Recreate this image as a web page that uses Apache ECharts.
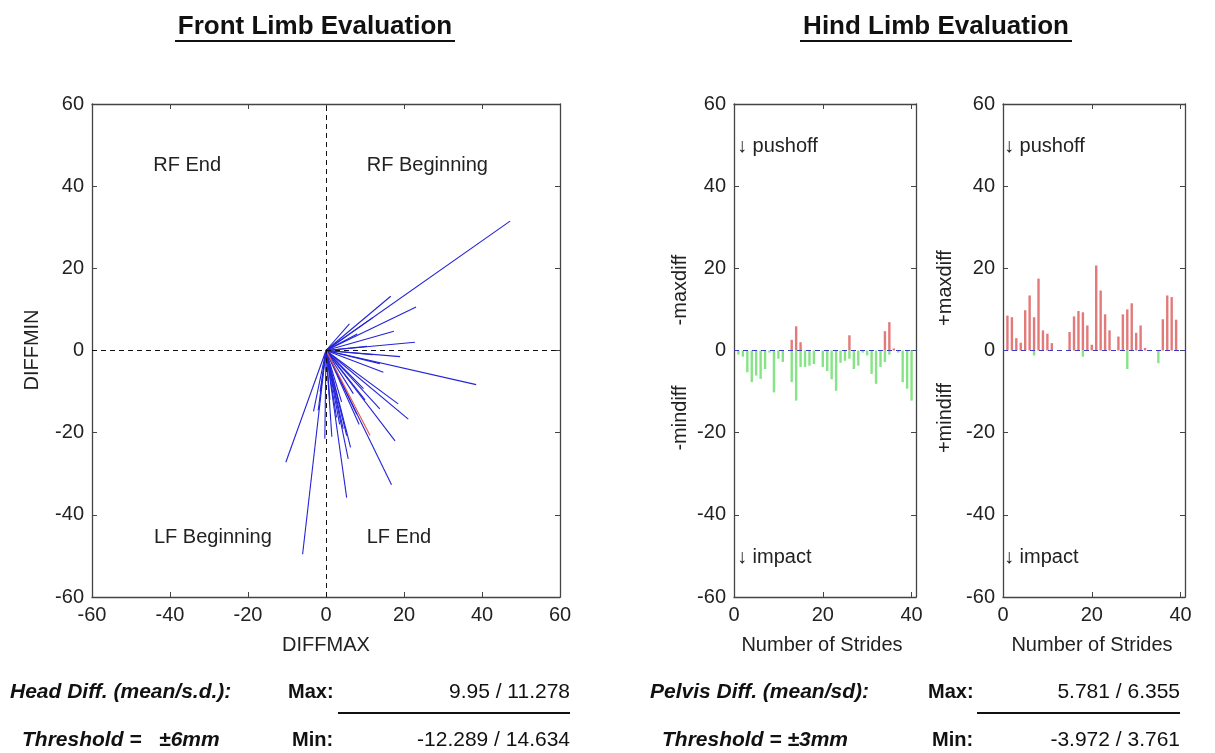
<!DOCTYPE html>
<html><head><meta charset="utf-8">
<script src="https://cdn.jsdelivr.net/npm/echarts@6/dist/echarts.min.js"></script>
<style>html,body{margin:0;padding:0;background:#fff}#c{width:1215px;height:753px}</style>
</head><body><div id="c"></div>
<script>
// ---------- data ----------
const frontTicks = [-60, -40, -20, 0, 20, 40, 60];
const frontEndX = [47.2,16.6,23.1,17.4,22.8,19.0,38.5,21.1,17.7,16.8,5.3,5.7,6.3,5.3,4.4,-10.3,-6.0,-3.2,-0.3,18.5,13.8,14.7,9.6,13.8,7.9,2.7,-2.0,12.0,8.0,10.5,6.0,12.0,3.5,1.5,8.5,10.0,1.0,-1.5,4.0,7.0];
const frontEndY = [31.5,13.2,10.6,4.7,2.0,-1.5,-8.3,-16.7,-22.0,-32.7,-35.8,-26.4,-23.6,-20.7,-19.1,-27.2,-49.6,-14.8,-21.5,-13.0,-3.2,-5.3,-9.3,-14.2,-15.5,-16.3,-14.6,8.0,4.0,1.0,6.5,-1.0,-18.0,-21.0,-18.0,-12.0,-12.0,-10.0,-12.5,-10.5];
const frontRedX = [11.3, 1.5];
const frontRedY = [-20.7, -2.5];
const quadLabels = ['RF End', 'RF Beginning', 'LF Beginning', 'LF End'];
const quadX = [-35.6, 26, -29, 18.7];
const quadY = [45, 45, -45.6, -45.6];

const strides = [1,2,3,4,5,6,7,8,9,10,11,12,13,14,15,16,17,18,19,20,21,22,23,24,25,26,27,28,29,30,31,32,33,34,35,36,37,38,39,40];
const hind1Max = [0,0,0,0,0,0,0,0,0,0,0,0,2.6,5.9,2.0,0,0,0,0,0,0,0,0,0,0,3.7,0,0,0,0,0,0,0,4.7,6.9,0.5,0,0,0,0];
const hind1Min = [-1,-1.5,-5.3,-7.7,-6.1,-6.9,-4.5,-0.5,-10.2,-2,-2.8,0,-7.7,-12.2,-4,-4,-3.7,-3.3,0,-4,-5,-7,-9.8,-3,-2.5,-2,-4.5,-3.7,-0.5,-1.2,-5.7,-8.1,-4,-2.8,-1,0,-0.5,-7.7,-9.3,-12.2];
const hind2Max = [8.5,8.1,3.0,1.9,9.8,13.4,8.1,17.5,4.9,4.1,1.8,0,0,0,4.5,8.3,9.6,9.3,6.1,1.4,20.7,14.6,8.8,4.9,0,3.4,8.8,10.0,11.5,4.3,6.1,0.6,0,0,0,7.6,13.4,13.0,7.5,0];
const hind2Min = [0,0,0,0,0,0,-1.2,0,0,0,0,0,0,0,0,0,0,-1.5,0,0,0,0,0,0,0,0,0,-4.5,0,0,0,0,0,0,-3.1,0,0,0,0,0];
const hindXTicks = [0, 20, 40];

// ---------- style ----------
const FF = '"Liberation Sans", Arial, Helvetica, sans-serif';
const AX = '#444';
const BLUE = '#2323d8';

function valAxis(gi, pos, min, max, interval, showLabel, fmt) {
  return {
    type: 'value', gridIndex: gi, position: pos, min, max, interval,
    axisLine: { show: true, onZero: false, lineStyle: { color: AX, width: 1.3 } },
    axisTick: { show: true, inside: true, length: 5, lineStyle: { color: AX } },
    splitLine: { show: false },
    axisLabel: { show: showLabel, color: '#222', fontSize: 20, fontFamily: FF, margin: 8,
      formatter: fmt || (v => String(v)) }
  };
}
const hindFmt = v => hindXTicks.indexOf(v) >= 0 ? String(v) : '';

const grids = [
  { left: 92, right: 655, top: 104, bottom: 156 },
  { left: 734, right: 299, top: 104, bottom: 156 },
  { left: 1003, right: 30, top: 104, bottom: 156 }
];

const xAxes = [
  valAxis(0, 'bottom', -60, 60, 20, true),
  valAxis(0, 'top', -60, 60, 20, false),
  valAxis(1, 'bottom', 0, 41, 20, true, hindFmt),
  valAxis(1, 'top', 0, 41, 20, false),
  valAxis(2, 'bottom', 0, 41, 20, true, hindFmt),
  valAxis(2, 'top', 0, 41, 20, false)
];
const yAxes = [
  valAxis(0, 'left', -60, 60, 20, true),
  valAxis(0, 'right', -60, 60, 20, false),
  valAxis(1, 'left', -60, 60, 20, true),
  valAxis(1, 'right', -60, 60, 20, false),
  valAxis(2, 'left', -60, 60, 20, true),
  valAxis(2, 'right', -60, 60, 20, false)
];

const series = [];
// crosshair on front plot
series.push({
  type: 'line', xAxisIndex: 0, yAxisIndex: 0, data: [], symbol: 'none', silent: true,
  markLine: { silent: true, symbol: 'none', label: { show: false },
    lineStyle: { color: '#111', type: [5, 4], width: 1 },
    data: [{ xAxis: 0 }, { yAxis: 0 }] }
});
frontEndX.forEach((x, i) => {
  series.push({ type: 'line', xAxisIndex: 0, yAxisIndex: 0, symbol: 'none', silent: true,
    data: [[0, 0], [x, frontEndY[i]]], lineStyle: { color: BLUE, width: 1.1 }, z: 3 });
});
frontRedX.forEach((x, i) => {
  series.push({ type: 'line', xAxisIndex: 0, yAxisIndex: 0, symbol: 'none', silent: true,
    data: [[0, 0], [x, frontRedY[i]]], lineStyle: { color: '#e0554f', width: 1.1 }, z: 4 });
});

function hindSeries(gi, maxArr, minArr) {
  const xi = gi * 2, yi = gi * 2;
  series.push({ type: 'bar', xAxisIndex: xi, yAxisIndex: yi, barWidth: 2.4, barGap: '-100%',
    data: strides.map((s, i) => [s, maxArr[i]]), itemStyle: { color: '#e27a7a' }, silent: true,
    markLine: { silent: true, symbol: 'none', label: { show: false }, z: 5,
      lineStyle: { color: '#3a3ac0', type: [5, 4], width: 1.2 }, data: [{ yAxis: 0 }] } });
  series.push({ type: 'bar', xAxisIndex: xi, yAxisIndex: yi, barWidth: 2.4, barGap: '-100%',
    data: strides.map((s, i) => [s, minArr[i]]), itemStyle: { color: '#86e486' }, silent: true });
}
hindSeries(1, hind1Max, hind1Min);
hindSeries(2, hind2Max, hind2Min);

function txt(x, y, text, opt) {
  return Object.assign({ type: 'text', x, y, silent: true,
    style: Object.assign({ text, fill: '#111', font: '20px ' + FF, align: 'left', verticalAlign: 'middle' }, opt || {}) });
}
function rtxt(x, y, text) {
  return { type: 'text', x, y, rotation: Math.PI / 2, silent: true,
    style: { text, fill: '#222', font: '20px ' + FF, align: 'center', verticalAlign: 'middle' } };
}
function hline(x1, x2, y, w) {
  return { type: 'line', silent: true, shape: { x1, y1: y, x2, y2: y }, style: { stroke: '#111', lineWidth: w } };
}

const graphic = [
  txt(315, 27, 'Front Limb Evaluation', { font: 'bold 26px ' + FF, align: 'center' }),
  hline(175, 455, 41, 2),
  txt(936, 27, 'Hind Limb Evaluation', { font: 'bold 26px ' + FF, align: 'center' }),
  hline(800, 1072, 41, 2),
  txt(326, 645, 'DIFFMAX', { align: 'center', fill: '#222' }),
  rtxt(32, 350, 'DIFFMIN'),
  txt(822, 645, 'Number of Strides', { align: 'center', fill: '#222' }),
  txt(1092, 645, 'Number of Strides', { align: 'center', fill: '#222' }),
  rtxt(680, 290, '-maxdiff'),
  rtxt(680, 418, '-mindiff'),
  rtxt(945, 288, '+maxdiff'),
  rtxt(945, 418, '+mindiff'),
  txt(737, 146, '\u2193 pushoff', { fill: '#222' }),
  txt(737, 557, '\u2193 impact', { fill: '#222' }),
  txt(1004, 146, '\u2193 pushoff', { fill: '#222' }),
  txt(1004, 557, '\u2193 impact', { fill: '#222' }),
  // bottom statistics
  txt(10, 692, 'Head Diff. (mean/s.d.):', { font: 'italic bold 21px ' + FF }),
  txt(288, 692, 'Max:', { font: 'bold 20px ' + FF }),
  txt(570, 692, '9.95 / 11.278', { align: 'right', font: '21px ' + FF }),
  hline(338, 570, 713, 2),
  txt(22, 740, 'Threshold =   \u00b16mm', { font: 'italic bold 21px ' + FF }),
  txt(292, 740, 'Min:', { font: 'bold 20px ' + FF }),
  txt(570, 740, '-12.289 / 14.634', { align: 'right', font: '21px ' + FF }),
  txt(650, 692, 'Pelvis Diff. (mean/sd):', { font: 'italic bold 21px ' + FF }),
  txt(928, 692, 'Max:', { font: 'bold 20px ' + FF }),
  txt(1180, 692, '5.781 / 6.355', { align: 'right', font: '21px ' + FF }),
  hline(977, 1180, 713, 2),
  txt(662, 740, 'Threshold = \u00b13mm', { font: 'italic bold 21px ' + FF }),
  txt(932, 740, 'Min:', { font: 'bold 20px ' + FF }),
  txt(1180, 740, '-3.972 / 3.761', { align: 'right', font: '21px ' + FF })
];

const chart = echarts.init(document.getElementById('c'), null, { renderer: 'canvas' });
chart.setOption({
  backgroundColor: '#fff',
  animation: false,
  grid: grids,
  xAxis: xAxes,
  yAxis: yAxes,
  series,
  graphic
});
// quadrant labels anchored to data coordinates of the front plot
const quadGraphics = quadLabels.map((t, i) => {
  const p = chart.convertToPixel({ xAxisIndex: 0, yAxisIndex: 0 }, [quadX[i], quadY[i]]);
  return txt(p[0], p[1], t, { align: 'center', fill: '#222' });
});
chart.setOption({ graphic: graphic.concat(quadGraphics) });
</script></body></html>
